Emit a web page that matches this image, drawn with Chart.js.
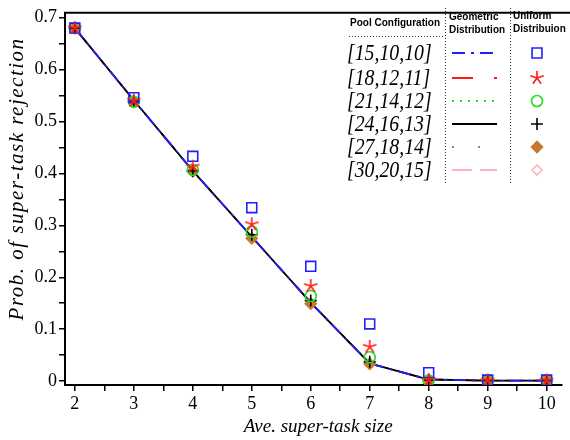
<!DOCTYPE html>
<html><head><meta charset="utf-8">
<script src="https://cdn.jsdelivr.net/npm/chart.js@4/dist/chart.umd.min.js"></script>
<style>html,body{margin:0;padding:0;background:#fff}#wrap{width:570px;height:440px}</style>
</head><body><div id="wrap"><canvas id="c" width="570" height="440"></canvas></div>
<script>
const sizes = [2,3,4,5,6,7,8,9,10];
const configs = ['[15,10,10]','[18,12,11]','[21,14,12]','[24,16,13]','[27,18,14]','[30,20,15]'];
const colors = ['#1f1fff','#ff1a1a','#22dd22','#000000','#c8782f','#ffb3c0'];
const yTickLabels = ['0','0.1','0.2','0.3','0.4','0.5','0.6','0.7'];
const xTickLabels = ['2','3','4','5','6','7','8','9','10'];
// Geometric distribution (lines)
const geo15 = [0.680,0.541,0.405,0.278,0.151,0.034,0.003,0.001,0.001];
const geo18 = [0.680,0.541,0.405,0.278,0.151,0.034,0.003,0.001,0.001];
const geo21 = [0.680,0.541,0.405,0.278,0.151,0.034,0.003,0.001,0.001];
const geo24 = [0.680,0.541,0.405,0.278,0.151,0.034,0.003,0.001,0.001];
const geo27 = [0.680,0.541,0.405,0.278,0.151,0.034,0.003,0.001,0.001];
const geo30 = [0.680,0.541,0.405,0.278,0.151,0.034,0.003,0.001,0.001];
// Uniform distribution (markers)
const uni15 = [0.680,0.546,0.433,0.334,0.221,0.110,0.016,0.002,0.002];
const uni18 = [0.680,0.540,0.413,0.302,0.183,0.066,0.002,0.001,0.001];
const uni21 = [0.680,0.538,0.407,0.288,0.164,0.046,0.001,0.001,0.001];
const uni24 = [0.680,0.540,0.405,0.282,0.155,0.037,0.002,0.001,0.001];
const uni27 = [0.680,0.538,0.404,0.275,0.149,0.033,0.002,0.001,0.001];
const uni30 = [0.680,0.538,0.404,0.275,0.149,0.033,0.002,0.001,0.001];

const geo = [geo15,geo18,geo21,geo24,geo27,geo30];
const uni = [uni15,uni18,uni21,uni24,uni27,uni30];
const dashes = [[13,6,3,6],[21,21,5,21],[2,6],[],[2,24],[20,8]];

function mk(w,h,fn){const c=document.createElement('canvas');c.width=w;c.height=h;const g=c.getContext('2d');fn(g);return c;}
const starImg = mk(16,16,g=>{g.strokeStyle=colors[1];g.lineWidth=1.6;g.beginPath();
  for(let i=0;i<5;i++){const a=-Math.PI/2+i*2*Math.PI/5;g.moveTo(8,8);g.lineTo(8+7*Math.cos(a),8+7*Math.sin(a));}g.stroke();});
const pts = (arr)=>sizes.map((x,i)=>({x:x,y:arr[i]}));

const markerDefs = [
  {style:'rect', radius:7, fill:false},
  {style:starImg, radius:7, fill:false},
  {style:'circle', radius:5.5, fill:false},
  {style:'cross', radius:6, fill:false},
  {style:'rectRot', radius:5.5, fill:true},
  {style:'rectRot', radius:5, fill:false}
];
const markerOrder = [1,0,2,3,4,5];
const datasets = [];
markerOrder.forEach(i=>{
  const m = markerDefs[i];
  datasets.push({type:'scatter', label:'Uniform '+configs[i], data:pts(uni[i]), showLine:false,
    pointStyle:m.style, pointRadius:m.radius, pointBorderColor:colors[i], pointBorderWidth:1.6,
    pointBackgroundColor: m.fill?colors[i]:'rgba(0,0,0,0)', pointHoverRadius:m.radius});
});
[0,3,1,2,4,5].forEach(i=>{
  datasets.push({type:'line', label:'Geometric '+configs[i], data:pts(geo[i]), borderColor:colors[i],
    borderWidth:1.8, borderDash:dashes[i], pointRadius:0, fill:false, tension:0});
});

const serif = '"Liberation Serif", "Times New Roman", serif';
const legendPlugin = {
  id:'tableLegend',
  afterDraw(chart){
    const g = chart.ctx, a = chart.chartArea;
    g.save();
    g.strokeStyle='#000'; g.lineWidth=2; g.setLineDash([]);
    g.beginPath(); g.moveTo(a.left-1, a.top); g.lineTo(570, a.top); g.stroke();
    g.lineWidth=1; g.setLineDash([1,2]); g.strokeStyle='#333';
    g.beginPath(); g.moveTo(445.5,8); g.lineTo(445.5,183); g.moveTo(510.5,8); g.lineTo(510.5,183);
    g.moveTo(349,36.5); g.lineTo(443,36.5); g.stroke();
    g.setLineDash([]);
    g.fillStyle='#000'; g.textBaseline='middle';
    g.font = Chart.helpers.toFont({family:'"Liberation Sans", Arial, sans-serif', size:10, weight:'bold'}).string;
    g.textAlign='left';
    g.fillText('Pool Configuration',350,23);
    g.fillText('Geometric',449,17); g.fillText('Distribution',449,30);
    g.fillText('Uniform',513,16); g.fillText('Distribuion',513,29);
    const rowsY=[53,78,101,124,147,170];
    const rowFont = Chart.helpers.toFont({family:serif, size:23, style:'italic'}).string;
    configs.forEach((t,i)=>{
      const y=rowsY[i], m=markerDefs[i];
      g.save(); g.font=rowFont; g.fillStyle='#000'; g.textAlign='left';
      g.translate(347,y+1); g.scale(0.86,1); g.fillText(t,0,0); g.restore();
      g.strokeStyle=colors[i]; g.lineWidth=1.8; g.setLineDash(dashes[i]);
      g.beginPath(); g.moveTo(452,y); g.lineTo(497,y); g.stroke(); g.setLineDash([]);
      g.strokeStyle=colors[i]; g.fillStyle=m.fill?colors[i]:'rgba(0,0,0,0)'; g.lineWidth=1.6;
      Chart.helpers.drawPoint(g,{pointStyle:m.style,radius:m.radius,borderWidth:1.6,rotation:0},537,y);
    });
    g.restore();
  }
};

function shiftTitle(s, dx, dy, spacing){
  if(s._patched) return; s._patched=true; const orig=s.drawTitle;
  s.drawTitle=function(){ const c=this.ctx; c.save(); c.translate(dx,dy); if(spacing) c.letterSpacing=spacing; orig.apply(this,arguments); c.restore(); };
}

new Chart(document.getElementById('c'), {
  data:{datasets},
  options:{
    responsive:false, animation:false, events:[],
    layout:{padding:{top:5,right:0,left:0,bottom:0}},
    plugins:{legend:{display:false}, tooltip:{enabled:false}},
    scales:{
      x:{type:'linear', min:1.8333, max:10.25,
        afterBuildTicks(s){ const t=[]; for(let v=2;v<=10.001;v+=0.5) t.push({value:v}); s.ticks=t; },
        afterFit(s){ s.height=55; shiftTitle(s,5,0,null); },
        ticks:{autoSkip:false, maxRotation:0, color:'#000', font:{family:serif,size:18}, padding:2,
          callback:(v)=> Number.isInteger(v)? xTickLabels[v-2] : ''},
        grid:{drawOnChartArea:false, drawTicks:true, tickLength:6, color:'#000', lineWidth:1.5},
        border:{display:true, color:'#000', width:2},
        title:{display:true, text:'Ave. super-task size', color:'#000', font:{family:serif,size:19,style:'italic'}, padding:{top:0,bottom:2}}
      },
      y:{type:'linear', min:-0.00755, max:0.7094,
        afterBuildTicks(s){ const t=[]; for(let k=0;k<=14;k++) t.push({value:k*0.05}); s.ticks=t; },
        afterFit(s){ s.width=65; shiftTitle(s,0,-20,'1.5px'); },
        ticks:{autoSkip:false, color:'#000', font:{family:serif,size:18}, padding:2,
          callback:(v)=>{ const k=Math.round(v*20); return k%2===0? yTickLabels[k/2] : ''; }},
        grid:{drawOnChartArea:false, drawTicks:true, tickLength:6, color:'#000', lineWidth:1.5},
        border:{display:true, color:'#000', width:2},
        title:{display:true, text:'Prob. of super-task rejection', color:'#000', font:{family:serif,size:21,style:'italic'}, padding:{top:5,bottom:0}}
      }
    }
  },
  plugins:[legendPlugin]
});
</script></body></html>
